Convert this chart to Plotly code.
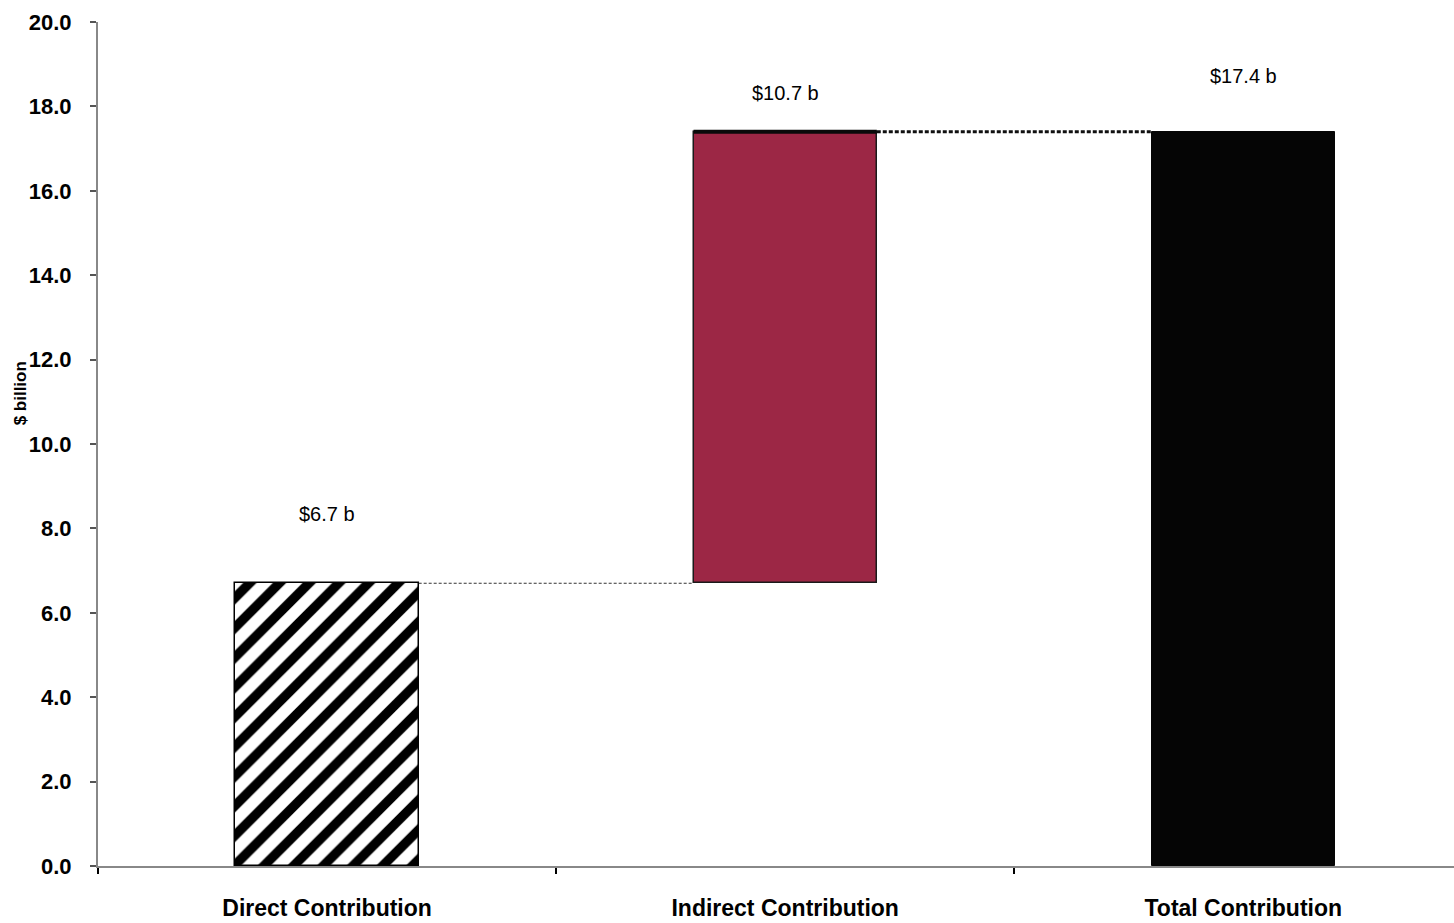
import plotly.graph_objects as go

categories = ["Direct Contribution", "Indirect Contribution", "Total Contribution"]
direct_value = 6.7
indirect_value = 10.7
total_value = 17.4
value_labels = ["$6.7 b", "$10.7 b", "$17.4 b"]
y_ticks = [0, 2, 4, 6, 8, 10, 12, 14, 16, 18, 20]

x = [0, 1, 2]
bw = 0.40
fig = go.Figure()

# Direct contribution: hatched
fig.add_trace(go.Bar(
    x=[x[0]], y=[direct_value], width=bw,
    marker=dict(color="white", line=dict(color="black", width=1.5),
                pattern=dict(shape="/", fgcolor="black", bgcolor="white",
                             fgopacity=1, size=21, solidity=0.45)),
    showlegend=False, hoverinfo="skip"))

# Indirect: floating bar starting at direct value
fig.add_trace(go.Bar(
    x=[x[1]], y=[indirect_value], base=[direct_value], width=bw,
    marker=dict(color="#9C2745", line=dict(color="#1a1a1a", width=1.5)),
    showlegend=False, hoverinfo="skip"))

# Total
fig.add_trace(go.Bar(
    x=[x[2]], y=[total_value], width=bw,
    marker=dict(color="#050505", line=dict(color="#050505", width=1)),
    showlegend=False, hoverinfo="skip"))

top = direct_value + indirect_value
# dark top edge of indirect bar
fig.add_trace(go.Scatter(
    x=[x[1] - bw / 2, x[1] + bw / 2], y=[top, top],
    mode="lines", line=dict(color="#0a0a0a", width=4),
    showlegend=False, hoverinfo="skip"))

# connectors
fig.add_trace(go.Scatter(
    x=[x[0] + bw / 2, x[1] - bw / 2], y=[direct_value, direct_value],
    mode="lines", line=dict(color="#333333", width=1, dash="3px,2px"),
    showlegend=False, hoverinfo="skip"))
fig.add_trace(go.Scatter(
    x=[x[1] + bw / 2, x[2] - bw / 2], y=[top, top],
    mode="lines", line=dict(color="#111111", width=3, dash="4px,2px"),
    showlegend=False, hoverinfo="skip"))

# value labels
label_y = [direct_value, top, total_value]
label_shift = [69, 39, 56]
for xi, yv, txt, sh in zip(x, label_y, value_labels, label_shift):
    fig.add_annotation(x=xi, y=yv, text=txt, showarrow=False, yshift=sh,
                       font=dict(family="Liberation Sans, Arial", size=20, color="black"))

# y-axis title
fig.add_annotation(xref="paper", yref="y", x=-0.066, y=11.2, text="<b>$ billion</b>",
                   textangle=-90, showarrow=False,
                   font=dict(family="Liberation Sans Narrow, Liberation Sans, Arial", size=17, color="black"))

fig.update_layout(
    width=1454, height=923,
    margin=dict(l=98, r=0, t=22, b=57),
    paper_bgcolor="white", plot_bgcolor="white",
    bargap=0,
    font=dict(family="Liberation Sans, Arial", color="black"),
)
fig.update_xaxes(
    range=[-0.5, 2.46], tickvals=x, ticktext=[f"<b>{c}</b>" for c in categories],
    tickfont=dict(size=23, family="Liberation Sans Narrow, Liberation Sans, Arial"),
    ticks="", ticklen=0, ticklabelstandoff=20, showgrid=False, zeroline=False,
    showline=True, linecolor="#888888", linewidth=2,
    minor=dict(tickvals=[-0.5, 0.5, 1.5], ticks="outside", ticklen=6,
               tickcolor="black", tickwidth=2),
    automargin=False,
)
fig.update_yaxes(
    range=[0, 20], tickvals=y_ticks, ticktext=[f"<b>{v:.1f}</b>" for v in y_ticks],
    tickfont=dict(size=22, family="Liberation Sans, Arial"),
    ticks="outside", ticklen=6, tickcolor="#555555", tickwidth=2,
    ticklabelstandoff=14,
    showgrid=False, zeroline=False,
    showline=True, linecolor="#888888", linewidth=2,
    automargin=False,
)

fig.write_html("out.html")
